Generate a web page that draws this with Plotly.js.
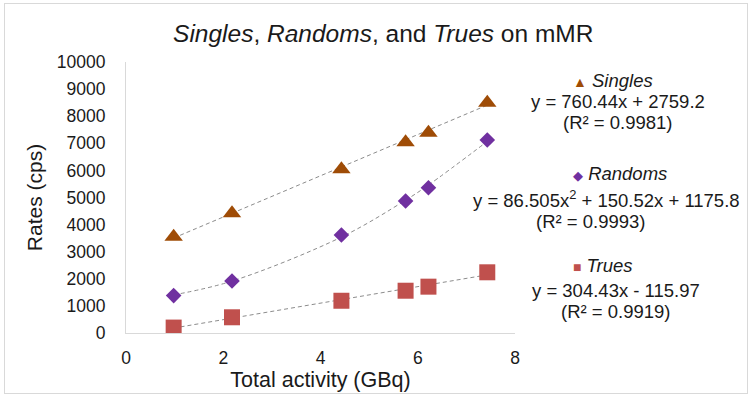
<!DOCTYPE html>
<html><head><meta charset="utf-8">
<script src="https://cdn.plot.ly/plotly-3.0.1.min.js"></script>
<style>body{margin:0;padding:0;background:#fff}#wrap{position:relative;width:750px;height:395px}#frame{position:absolute;left:4px;top:3px;width:742px;height:389px;border:1px solid #d9d9d9;pointer-events:none}</style>
</head><body><div id="wrap"><div id="chart" style="width:750px;height:395px"></div><div id="frame"></div></div>
<script>
const activity = [0.98, 2.18, 4.43, 5.75, 6.22, 7.43];
const singles = [3550, 4420, 6040, 7040, 7390, 8500];
const randoms = [1380, 1920, 3615, 4870, 5360, 7120];
const trues = [200, 580, 1190, 1560, 1710, 2240];
const singlesFit = [760.44, 2759.2];          // slope, intercept
const randomsFit = [86.505, 150.52, 1175.8];  // a, b, c
const truesFit = [304.43, -115.97];           // slope, intercept

const lin = (c) => activity.map(x => c[0]*x + c[1]);
const quad = (c) => activity.map(x => c[0]*x*x + c[1]*x + c[2]);

const trendLine = {color:'#8c8c8c', width:1, dash:'4px,3px'};
const data = [
  {x:activity, y:lin(singlesFit), mode:'lines', line:trendLine, hoverinfo:'skip'},
  {x:activity, y:quad(randomsFit), mode:'lines', line:Object.assign({shape:'spline'}, trendLine), hoverinfo:'skip'},
  {x:activity, y:lin(truesFit), mode:'lines', line:trendLine, hoverinfo:'skip'},
  {x:activity, y:singles, mode:'markers', name:'Singles', marker:{symbol:'triangle-up', size:16, color:'#9f4c06'}},
  {x:activity, y:randoms, mode:'markers', name:'Randoms', marker:{symbol:'diamond', size:12, color:'#7030a0'}},
  {x:activity, y:trues, mode:'markers', name:'Trues', marker:{symbol:'square', size:16, color:'#c0504d'}}
];
const ff = 'Liberation Sans, Arial, sans-serif';
// pixel -> paper helpers (plot area: x 126..515, y 62..333)
const py = (p) => (333 - p) / (333 - 62);
const px = (p) => (p - 126) / (515 - 126);
const ann = (text, yPix, xPix, xanchor) => ({text, x:px(xPix), y:py(yPix), xref:'paper', yref:'paper', xanchor:xanchor||'center', yanchor:'middle', showarrow:false, font:{family:ff, size:18.5, color:'#1a1a1a'}});
const annotations = [
  ann('<span style="color:#9f4c06;font-size:14px">▲</span> <i>Singles</i>', 80, 571, 'left'),
  ann('y = 760.44x + 2759.2', 101, 618),
  ann('(R² = 0.9981)', 122, 618),
  ann('<span style="color:#7030a0;font-size:13px">◆</span> <i>Randoms</i>', 173, 571, 'left'),
  ann('y = 86.505x<sup>2</sup> + 150.52x + 1175.8', 199, 471, 'left'),
  ann('(R² = 0.9993)', 221, 591),
  ann('<span style="color:#c0504d;font-size:14px">■</span> <i>Trues</i>', 265, 571, 'left'),
  ann('y = 304.43x - 115.97', 290, 616),
  ann('(R² = 0.9919)', 311, 616)
];
const layout = {
  width:750, height:395, showlegend:false,
  paper_bgcolor:'#fff', plot_bgcolor:'#fff',
  margin:{l:126, r:235, t:62, b:62},
  font:{family:ff, color:'#1a1a1a'},
  title:{text:'<i>Singles</i>, <i>Randoms</i>, and <i>Trues</i> on mMR', x:0.511, xref:'container', y:0.915, yref:'container', yanchor:'middle', font:{family:ff, size:24.5, color:'#1a1a1a'}},
  xaxis:{range:[0,8], dtick:2, showgrid:false, zeroline:false, showline:true, linecolor:'#d9d9d9', linewidth:1,
    ticks:'outside', ticklen:9, tickcolor:'rgba(0,0,0,0)', tickfont:{size:17.5, color:'#1a1a1a'},
    title:{text:'Total activity (GBq)', font:{size:21.5, color:'#1a1a1a'}, standoff:4}},
  yaxis:{range:[0,10000], dtick:1000, tickformat:'d', showgrid:false, zeroline:false, showline:true, linecolor:'#d9d9d9', linewidth:1,
    ticks:'outside', ticklen:16, tickcolor:'rgba(0,0,0,0)', tickfont:{size:17.5, color:'#1a1a1a'},
    title:{text:'Rates (cps)', font:{size:21, color:'#1a1a1a'}, standoff:8}},
  annotations
};
Plotly.newPlot('chart', data, layout, {displayModeBar:false, staticPlot:true});
</script></body></html>
